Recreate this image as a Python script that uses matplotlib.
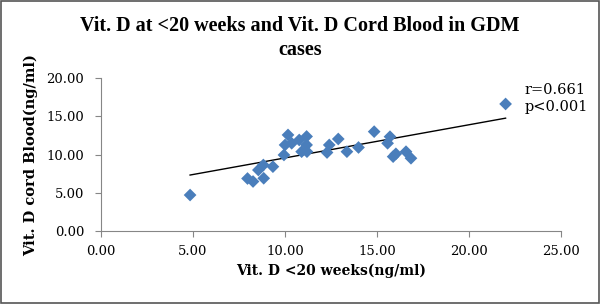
import matplotlib
matplotlib.use("Agg")
import matplotlib.pyplot as plt
import matplotlib.patches as mpatches
import numpy as np

# Vit. D at <20 weeks (x) vs Vit. D cord blood (y), ng/ml
vitd_20wk = [4.85, 7.97, 8.27, 8.56, 8.83, 8.85, 9.35, 9.95, 10.01, 10.17,
             10.37, 10.78, 10.91, 11.18, 11.18, 11.20, 12.29, 12.41, 12.90,
             13.37, 14.00, 14.85, 15.71, 15.58, 15.88, 16.03, 16.58, 16.85, 21.99]
vitd_cord = [4.71, 6.87, 6.48, 7.98, 8.64, 6.90, 8.42, 9.95, 11.26, 12.57,
             11.48, 11.91, 10.38, 12.37, 11.26, 10.38, 10.27, 11.26, 12.04,
             10.38, 10.93, 13.00, 12.34, 11.48, 9.73, 10.10, 10.38, 9.52, 16.62]
# linear trendline as shown on the chart (slope, intercept)
trend_coef = [0.434, 5.22]
x_ticks = [0, 5, 10, 15, 20, 25]
y_ticks = [0, 5, 10, 15, 20]

serif = "DejaVu Serif"
fig = plt.figure(figsize=(6.0, 3.04), dpi=100)
ax = fig.add_axes([0.168, 0.240, 0.767, 0.503])

ax.scatter(vitd_20wk, vitd_cord, marker="D", s=42, color="#4A7EBB",
           edgecolors="none", zorder=3)

xs = np.array(vitd_20wk)
xl = np.array([xs.min(), xs.max()])
ax.plot(xl, np.polyval(trend_coef, xl), color="black", lw=1.0, zorder=2)

ax.text(23.0, 19.4, "r=0.661\np<0.001", family=serif, fontsize=10.5,
        va="top", ha="left", linespacing=1.3)

ax.set_xlim(0, 25)
ax.set_ylim(0, 20)
ax.set_xticks(x_ticks)
ax.set_yticks(y_ticks)
ax.set_xticklabels([f"{v:.2f}" for v in x_ticks], family=serif, fontsize=9.5)
ax.set_yticklabels([f"{v:.2f}" for v in y_ticks], family=serif, fontsize=9.5)
ax.tick_params(direction="out", length=4, color="#868686", width=0.8)
ax.tick_params(axis="x", pad=6)
ax.tick_params(axis="y", pad=8)

for s in ("top", "right"):
    ax.spines[s].set_visible(False)
for s in ("left", "bottom"):
    ax.spines[s].set_color("#868686")
    ax.spines[s].set_linewidth(0.8)

ax.set_xlabel("Vit. D <20 weeks(ng/ml)", family=serif, fontsize=10,
              fontweight="bold", labelpad=4)
ax.set_ylabel("Vit. D cord Blood(ng/ml)", family=serif, fontsize=10.5,
              fontweight="bold", labelpad=6)
fig.text(0.5, 0.875, "Vit. D at <20 weeks and Vit. D Cord Blood in GDM\ncases",
         family="Liberation Serif", fontsize=14.5, fontweight="bold",
         ha="center", va="center", linespacing=1.25)

# chart frame
fig.patches.append(mpatches.Rectangle((0.001, 0.002), 0.997, 0.995,
                                      transform=fig.transFigure, fill=False,
                                      edgecolor="#555555", lw=1.2))

plt.savefig("out.png", dpi=100)
